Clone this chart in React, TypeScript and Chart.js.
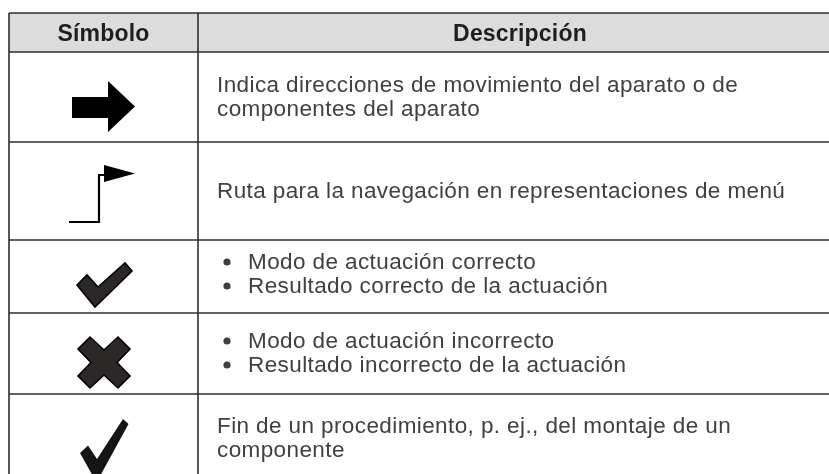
import React, { useEffect, useRef } from "react";
import { Chart, registerables } from "chart.js";

Chart.register(...registerables);

// ---- Data ----
const headers: string[] = ["Símbolo", "Descripción"];
const symbols: string[] = ["arrow", "menuPath", "checkBold", "cross", "check"];
const descriptions: string[][] = [
  ["Indica direcciones de movimiento del aparato o de", "componentes del aparato"],
  ["Ruta para la navegación en representaciones de menú"],
  ["Modo de actuación correcto", "Resultado correcto de la actuación"],
  ["Modo de actuación incorrecto", "Resultado incorrecto de la actuación"],
  ["Fin de un procedimiento, p. ej., del montaje de un", "componente"],
];
const bulleted: boolean[] = [false, false, true, true, false];

// ---- Layout (scale units = pixels of the 829x474 canvas) ----
const W = 829;
const H = 474;
const COL_EDGES = [9, 198, 842];
const ROW_EDGES = [13, 52, 142, 240, 313, 394, 530];
// baselines per row, relative to row top
const BASELINES: number[][] = [[40, 64], [56], [29, 53], [35, 59], [39, 63]];
const HEADER_BASELINE = 28;
const TEXT_X = 217;
const BULLET_X = 227;
const BULLET_TEXT_X = 248;

// symbol shapes in absolute scale coordinates
const SHAPES: Record<string, { polys: number[][][]; lines?: number[][][]; fill: string; stroke?: string }> = {
  arrow: {
    polys: [
      [[72, 97], [108, 97], [108, 81], [135, 106.5], [108, 132], [108, 118], [72, 118]],
    ],
    fill: "#000000",
  },
  menuPath: {
    polys: [[[104, 165], [135, 173.5], [104, 182]]],
    lines: [[[69, 222], [99, 222], [99, 175], [104, 175]]],
    fill: "#000000",
  },
  checkBold: {
    polys: [[[77, 285], [87, 275], [98, 287], [125, 263], [132, 271], [95, 307]]],
    fill: "#2b2727",
    stroke: "#000000",
  },
  cross: {
    polys: [
      [
        [78, 349], [90, 337], [104, 350], [118, 337], [130, 349], [117, 362.5],
        [130, 376], [118, 388], [104, 375], [90, 388], [78, 376], [91, 362.5],
      ],
    ],
    fill: "#2b2727",
    stroke: "#000000",
  },
  check: {
    polys: [[[80, 453], [88, 445.5], [97, 459], [123, 419], [128.5, 424], [99, 478], [94, 478]]],
    fill: "#151515",
  },
};

const tablePlugin = {
  id: "tablePlugin",
  afterDraw(chart: any) {
    const ctx: CanvasRenderingContext2D = chart.ctx;
    const xs = chart.scales.x;
    const ys = chart.scales.y;
    const X = (v: number) => xs.getPixelForValue(v);
    const Y = (v: number) => ys.getPixelForValue(v);

    ctx.save();
    ctx.fillStyle = "#ffffff";
    ctx.fillRect(0, 0, chart.width, chart.height);

    // header background
    ctx.fillStyle = "#dcdcdd";
    ctx.fillRect(X(COL_EDGES[0]), Y(ROW_EDGES[0]), X(COL_EDGES[2]) - X(COL_EDGES[0]), Y(ROW_EDGES[1]) - Y(ROW_EDGES[0]));

    // header text
    ctx.fillStyle = "#1e1e1e";
    ctx.font = "bold 23px 'Liberation Sans', Arial, sans-serif";
    ctx.textAlign = "center";
    ctx.textBaseline = "alphabetic";
    (ctx as any).letterSpacing = "0.2px";
    headers.forEach((h, i) => {
      const cx = (COL_EDGES[i] + COL_EDGES[i + 1]) / 2;
      ctx.fillText(h, X(cx), Y(ROW_EDGES[0] + HEADER_BASELINE));
    });

    // body text
    ctx.textAlign = "left";
    ctx.fillStyle = "#404040";
    ctx.font = "22.5px 'Liberation Sans', Arial, sans-serif";
    (ctx as any).letterSpacing = "0.4px";
    descriptions.forEach((lines, r) => {
      const top = ROW_EDGES[r + 1];
      lines.forEach((line, li) => {
        const by = top + BASELINES[r][li];
        if (bulleted[r]) {
          ctx.beginPath();
          ctx.arc(X(BULLET_X), Y(by - 7), 3.6, 0, Math.PI * 2);
          ctx.fill();
          ctx.fillText(line, X(BULLET_TEXT_X), Y(by));
        } else {
          ctx.fillText(line, X(TEXT_X), Y(by));
        }
      });
    });
    (ctx as any).letterSpacing = "0px";

    // symbols
    symbols.forEach((s) => {
      const shape = SHAPES[s];
      if (!shape) return;
      shape.polys.forEach((poly) => {
        ctx.beginPath();
        poly.forEach(([px, py], k) => {
          if (k === 0) ctx.moveTo(X(px), Y(py));
          else ctx.lineTo(X(px), Y(py));
        });
        ctx.closePath();
        ctx.fillStyle = shape.fill;
        ctx.fill();
        if (shape.stroke) {
          ctx.strokeStyle = shape.stroke;
          ctx.lineWidth = 1.6;
          ctx.lineJoin = "miter";
          ctx.stroke();
        }
      });
      (shape.lines || []).forEach((ln) => {
        ctx.beginPath();
        ln.forEach(([px, py], k) => {
          if (k === 0) ctx.moveTo(X(px), Y(py));
          else ctx.lineTo(X(px), Y(py));
        });
        ctx.strokeStyle = "#000000";
        ctx.lineWidth = 2.2;
        ctx.lineJoin = "miter";
        ctx.lineCap = "butt";
        ctx.stroke();
      });
    });

    // grid lines
    ctx.strokeStyle = "#2e2e2e";
    ctx.lineWidth = 1.6;
    ROW_EDGES.forEach((ry) => {
      ctx.beginPath();
      ctx.moveTo(X(COL_EDGES[0]), Y(ry));
      ctx.lineTo(X(COL_EDGES[2]), Y(ry));
      ctx.stroke();
    });
    COL_EDGES.forEach((cx) => {
      ctx.beginPath();
      ctx.moveTo(X(cx), Y(ROW_EDGES[0]));
      ctx.lineTo(X(cx), Y(ROW_EDGES[ROW_EDGES.length - 1]));
      ctx.stroke();
    });
    ctx.restore();
  },
};

export default function App() {
  const ref = useRef<HTMLCanvasElement | null>(null);
  useEffect(() => {
    if (!ref.current) return;
    const chart = new Chart(ref.current, {
      type: "scatter",
      data: { datasets: [{ data: [], pointRadius: 0 }] },
      options: {
        animation: false,
        responsive: false,
        maintainAspectRatio: false,
        layout: { padding: 0 },
        plugins: { legend: { display: false }, tooltip: { enabled: false }, title: { display: false } },
        scales: {
          x: { type: "linear", min: 0, max: W, display: false },
          y: { type: "linear", min: 0, max: H, reverse: true, display: false },
        },
      },
      plugins: [tablePlugin],
    });
    return () => chart.destroy();
  }, []);
  return (
    <div style={{ position: "absolute", left: 0, top: 0, width: W, height: H, background: "#fff" }}>
      <canvas ref={ref} width={W} height={H} style={{ width: W, height: H, display: "block" }} />
    </div>
  );
}
